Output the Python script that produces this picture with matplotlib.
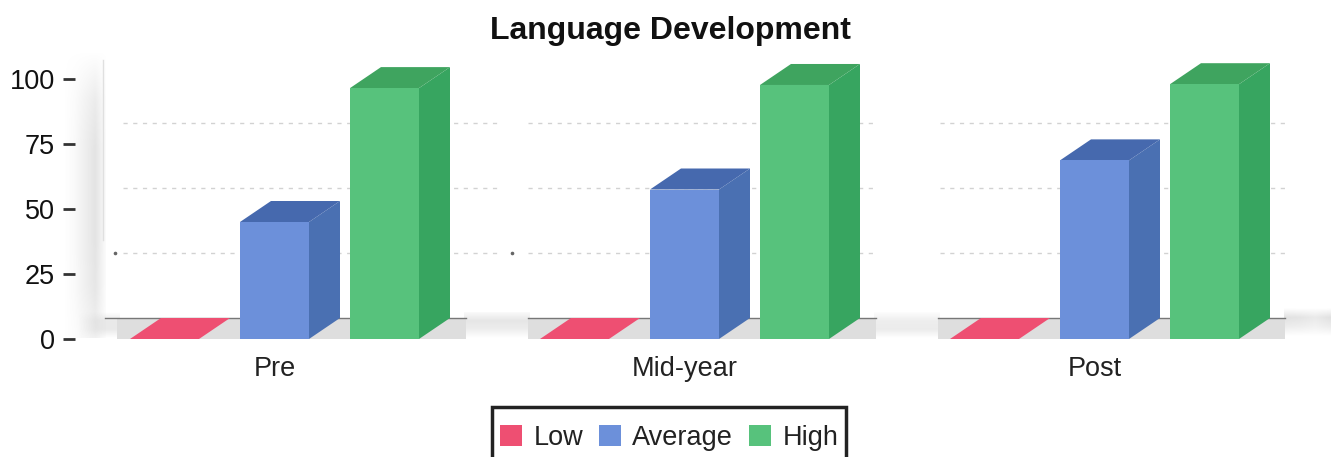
import matplotlib
matplotlib.use("Agg")
import matplotlib.pyplot as plt
from matplotlib.patches import Polygon, Rectangle, Patch
import numpy as np

plt.rcParams['font.family'] = ['Liberation Sans', 'DejaVu Sans']

categories = ["Pre", "Mid-year", "Post"]
series_names = ["Low", "Average", "High"]
low = [0, 0, 0]
average = [45, 57.5, 68.7]
high = [96.5, 97.7, 98]
yticks = [0, 25, 50, 75, 100]
title = "Language Development"

front_colors = ["#EE4F72", "#6C90DA", "#57C27C"]
side_colors = ["#D9405F", "#4A70B2", "#37A560"]
top_colors = ["#EE4F72", "#4669AE", "#3FA45F"]

W, H = 1331, 457
PX_PER_UNIT = 2.6
PX_PER_CAT = 410.0
X0_PX = 274.5
AX_L, AX_R, AX_B, AX_T = 75, 1331, 339, 60


def xd(px):
    return (px - X0_PX) / PX_PER_CAT


def xwidth(px):
    return px / PX_PER_CAT


fig = plt.figure(figsize=(W / 100, H / 100), dpi=100, facecolor="white")
ax = fig.add_axes([AX_L / W, 1 - AX_B / H, (AX_R - AX_L) / W, (AX_B - AX_T) / H])
ax.set_xlim(xd(AX_L), xd(AX_R))
ax.set_ylim(0, (AX_B - AX_T) / PX_PER_UNIT)
ax.patch.set_alpha(0)
for s in ax.spines.values():
    s.set_visible(False)

dx = xwidth(31)
dy = 21 / PX_PER_UNIT
bar_w = xwidth(69)
bar_step = xwidth(110)
x_pos = np.arange(len(categories))

# soft scan shadows, behind the chart
fig_ax = fig.add_axes([0, 0, 1, 1], zorder=-1)
fig_ax.axis("off")


def smear(x0, x1, y0, y1, ax_profile_x, ax_profile_y, peak):
    """Grey veil whose opacity is the product of an x and a y profile."""
    px = np.interp(np.linspace(0, 1, 80), np.linspace(0, 1, len(ax_profile_x)), ax_profile_x)
    py = np.interp(np.linspace(0, 1, 80), np.linspace(0, 1, len(ax_profile_y)), ax_profile_y)
    rgba = np.zeros((80, 80, 4))
    rgba[..., :3] = 0.72
    rgba[..., 3] = np.outer(py, px) * peak
    fig_ax.imshow(rgba, extent=(x0, x1, y1, y0), aspect="auto", interpolation="bilinear")


smear(64, 106, 50, 338, [0, 0.2, 0.6, 1, 0.15], [0, 0.7, 1, 1, 1, 0.9, 0.5], 0.38)
smear(78, 120, 312, 338, [0, 0.5, 1, 1], [0, 1, 1, 0], 0.3)
smear(464, 530, 312, 338, [1, 1, 1, 1], [0.2, 1, 0.7, 0], 0.35)
smear(874, 940, 312, 338, [1, 1, 1, 1], [0.1, 0.8, 0.9, 0], 0.3)
smear(1284, 1331, 308, 336, [1, 0.9, 0.7, 1], [0, 1, 0.6, 0], 0.42)
fig_ax.plot([103, 103], [60, 240], color="#E0E0E0", lw=1)
fig_ax.plot([115, 512], [253, 253], ls="none", marker="o", ms=1.6, color="#666666")
fig_ax.set_xlim(0, W)
fig_ax.set_ylim(H, 0)

# back-wall gridlines and floor, one panel per category
floor_px = [(117, 466), (528, 876), (938, 1285)]
grid_px = [(123, 500), (528, 876), (940, 1285)]
for c in x_pos:
    ax.add_patch(Rectangle((xd(floor_px[c][0]), 0), xwidth(floor_px[c][1] - floor_px[c][0]), dy,
                           color="#DEDEDE", lw=0, zorder=1))
    ax.plot([xd(105 if c == 0 else floor_px[c][0]), xd(floor_px[c][1])], [dy, dy],
            color="#777777", lw=1, zorder=1.5, clip_on=False)
    for t in yticks[1:-1]:
        ax.plot([xd(grid_px[c][0]), xd(grid_px[c][1])], [t + dy - 0.1, t + dy - 0.1],
                color="#D2D2D2", lw=1, ls=(0, (3, 4)), zorder=1)

# 3D bars
order = [low, average, high]
for j, vals in enumerate(order):
    pos = x_pos + (j - 1) * bar_step
    ax.bar(pos, vals, width=bar_w, color=front_colors[j], zorder=4, linewidth=0)
    for xc, v in zip(pos, vals):
        l, r = xc - bar_w / 2, xc + bar_w / 2
        ax.add_patch(Polygon([(r, 0), (r + dx, dy), (r + dx, v + dy), (r, v)],
                             closed=True, color=side_colors[j], lw=0, zorder=3))
        ax.add_patch(Polygon([(l, v), (l + dx, v + dy), (r + dx, v + dy), (r, v)],
                             closed=True, color=top_colors[j], lw=0, zorder=3))

ax.set_xticks(x_pos)
ax.set_xticklabels(categories, fontsize=19.5, color="#222222")
ax.tick_params(axis="x", length=0, pad=12)
ax.set_yticks(yticks)
ax.set_yticklabels([str(t) for t in yticks], fontsize=19.5, color="#111111")
ax.tick_params(axis="y", length=8.5, width=2, color="#333333", pad=6)

fig.text(670 / W, 1 - 31 / H, title, fontsize=23, fontweight="bold",
         ha="center", va="center", color="#111111")

# legend frame runs off the bottom of the picture
fig_ax.add_patch(Rectangle((492, 407), 354, 56, facecolor="white", edgecolor="#222222",
                           lw=2.5, zorder=5, clip_on=True))
handles = [Patch(facecolor=c, edgecolor="none", label=n) for c, n in zip(front_colors, series_names)]
leg = fig.legend(handles=handles, loc="center", bbox_to_anchor=(669 / W, 1 - 438 / H),
                 ncol=3, frameon=False, fontsize=19.5, handlelength=0.82, handleheight=0.82,
                 handletextpad=0.42, columnspacing=0.58, borderpad=0.6, labelcolor="#222222")

fig.savefig("out.png", dpi=100)
